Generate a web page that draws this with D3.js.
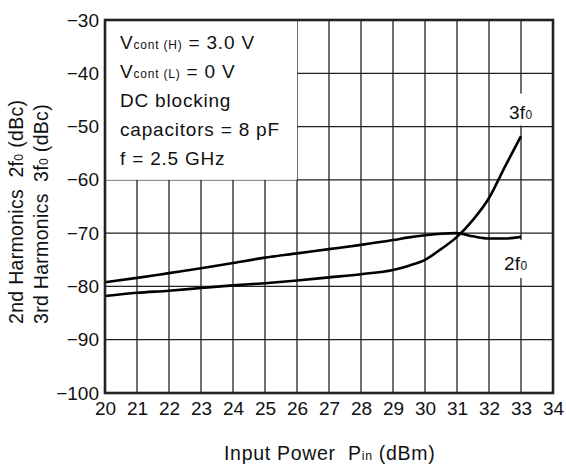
<!DOCTYPE html>
<html>
<head>
<meta charset="utf-8">
<script src="https://cdn.jsdelivr.net/npm/d3@7"></script>
<style>
    body { margin: 0; background: #fff; }
    svg text { font-family: "Liberation Sans", Arial, Helvetica, sans-serif; fill: #111; white-space: pre; }
</style>
</head>
<body>
<div id="chart" style="width:566px;height:467px"></div>
<script>
// input power (dBm)
const pin = [20, 21, 22, 23, 24, 25, 26, 27, 28, 29, 29.5, 30, 30.5, 31, 31.5, 32, 32.5, 33];
// 2nd harmonic 2f0 (dBc)
const harm2 = [-79.2, -78.4, -77.5, -76.6, -75.6, -74.6, -73.8, -73.0, -72.2, -71.3, -70.8, -70.4, -70.1, -70.0, -70.6, -71.0, -71.0, -70.7];
// 3rd harmonic 3f0 (dBc)
const harm3 = [-81.8, -81.2, -80.8, -80.3, -79.8, -79.4, -78.9, -78.3, -77.7, -76.9, -76.1, -75.0, -73.0, -70.7, -67.5, -63.4, -57.5, -51.8];
const xTicks = [20, 21, 22, 23, 24, 25, 26, 27, 28, 29, 30, 31, 32, 33, 34];
const yTicks = [-30, -40, -50, -60, -70, -80, -90, -100];

const node = document.getElementById('chart');
const width = 566;
const height = 467;
const paddingLeft = 105;
const paddingRight = 13;
const paddingTop = 20;
const paddingBottom = 74;
const innerW = width - paddingLeft - paddingRight;
const innerH = height - paddingTop - paddingBottom;

const xScale = d3.scaleLinear().domain([20, 34]).range([0, innerW]);
const yScale = d3.scaleLinear().domain([-100, -30]).range([innerH, 0]);

const svg = d3.select(node).append('svg')
    .attr('width', width)
    .attr('height', height);

const g = svg.append('g')
    .attr('transform', `translate(${paddingLeft},${paddingTop})`);

// 网格
g.append('g').selectAll('line.v')
    .data(xTicks)
    .join('line')
    .attr('x1', (d) => xScale(d))
    .attr('x2', (d) => xScale(d))
    .attr('y1', 0)
    .attr('y2', innerH)
    .attr('stroke', '#222')
    .attr('stroke-width', 1.3);
g.append('g').selectAll('line.h')
    .data(yTicks)
    .join('line')
    .attr('x1', 0)
    .attr('x2', innerW)
    .attr('y1', (d) => yScale(d))
    .attr('y2', (d) => yScale(d))
    .attr('stroke', '#222')
    .attr('stroke-width', 1.3);

// 条件说明框 (盖住网格)
g.append('rect')
    .attr('x', 0)
    .attr('y', 0)
    .attr('width', xScale(26))
    .attr('height', yScale(-60))
    .attr('fill', '#fff');

// 曲线标签背景
g.append('rect')
    .attr('x', xScale(33) - 14)
    .attr('y', yScale(-43.8))
    .attr('width', 28)
    .attr('height', yScale(-50) - yScale(-43.8) - 1)
    .attr('fill', '#fff');
g.append('rect')
    .attr('x', xScale(33) - 14)
    .attr('y', yScale(-71.3))
    .attr('width', 28)
    .attr('height', yScale(-78.4) - yScale(-71.3))
    .attr('fill', '#fff');

// 曲线
const line = d3.line()
    .x((d) => xScale(d[0]))
    .y((d) => yScale(d[1]))
    .curve(d3.curveMonotoneX);

[harm2, harm3].forEach((s) => {
    g.append('path')
        .attr('d', line(pin.map((p, i) => [p, s[i]])))
        .attr('fill', 'none')
        .attr('stroke', '#000')
        .attr('stroke-width', 2.6)
        .attr('stroke-linejoin', 'round');
});

// 边框
g.append('rect')
    .attr('x', 0)
    .attr('y', 0)
    .attr('width', innerW)
    .attr('height', innerH)
    .attr('fill', 'none')
    .attr('stroke', '#222')
    .attr('stroke-width', 2.6);

// 坐标轴文字
const xAxis = d3.axisBottom(xScale)
    .tickValues(xTicks)
    .tickSize(0)
    .tickPadding(9)
    .tickFormat(d3.format('d'));
const yAxis = d3.axisLeft(yScale)
    .tickValues(yTicks)
    .tickSize(0)
    .tickPadding(6)
    .tickFormat(d3.format('d'));

const gx = g.append('g')
    .attr('transform', `translate(0,${innerH})`)
    .call(xAxis);
const gy = g.append('g').call(yAxis);
[gx, gy].forEach((a) => {
    a.select('.domain').remove();
    a.selectAll('text')
        .attr('font-size', 19)
        .attr('fill', '#111')
        .style('font-family', '"Liberation Sans", Arial, sans-serif');
});

// 文字 + 下标
const label = (parent, x, y, parts, size, spacing) => {
    const t = parent.append('text')
        .attr('x', x)
        .attr('y', y)
        .attr('font-size', size)
        .attr('letter-spacing', spacing || 0);
    parts.forEach((p) => {
        t.append('tspan')
            .attr('font-size', p[1] ? size * 0.63 : size)
            .text(p[0]);
    });
    return t;
};

const boxLines = [
    [['V'], ['cont (H)', 1], [' = 3.0 V']],
    [['V'], ['cont (L)', 1], [' = 0 V']],
    [['DC blocking']],
    [['capacitors = 8 pF']],
    [['f = 2.5 GHz']],
];
boxLines.forEach((parts, i) => {
    label(g, 15, 29 + i * 29, parts, 19, 0.8);
});

label(g, xScale(33) - 12, yScale(-48.6), [['3f'], ['0', 1]], 19, 0.3);
label(g, xScale(33) - 17, yScale(-76.9), [['2f'], ['0', 1]], 19, 0.3);

// x轴标题
label(svg, 224, 460, [['Input Power  P'], ['in', 1], [' (dBm)']], 19.5, 0.7);

// y轴标题
const yt = svg.append('g')
    .attr('transform', 'translate(0,324) rotate(-90)');
label(yt, 0, 23, [['2nd Harmonics  2f'], ['0', 1], [' (dBc)']], 19.5, 0.3);
label(yt, 0, 48, [['3rd Harmonics  3f'], ['0', 1], [' (dBc)']], 19.5, 0.3);
</script>
</body>
</html>
